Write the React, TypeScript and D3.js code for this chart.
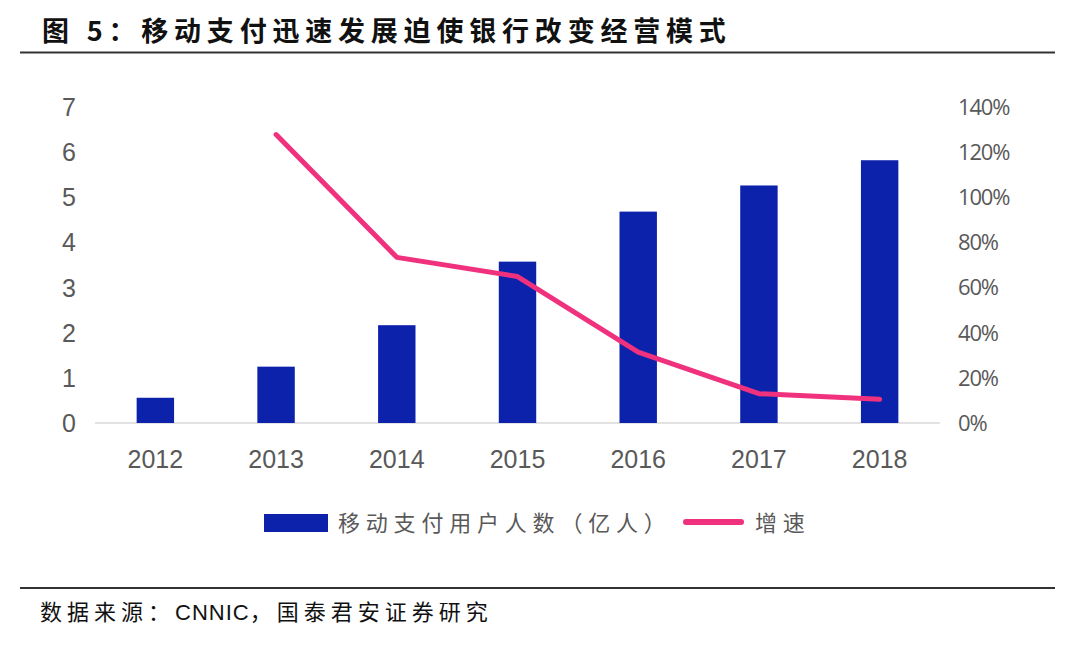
import React from "react";
import * as d3 from "d3";

const years = ["2012", "2013", "2014", "2015", "2016", "2017", "2018"];
const users = [0.56, 1.25, 2.17, 3.58, 4.69, 5.27, 5.83];
const growthYears = ["2013", "2014", "2015", "2016", "2017", "2018"];
const growth = [1.28, 0.735, 0.65, 0.315, 0.13, 0.105];
const leftTicks = [0, 1, 2, 3, 4, 5, 6, 7];
const rightTicks = [0, 0.2, 0.4, 0.6, 0.8, 1.0, 1.2, 1.4];

const W = 1080;
const H = 648;
const plotL = 95;
const plotR = 940;
const plotT = 107.5;
const plotB = 423;

const BAR = "#0D22AA";
const LINE = "#F0317E";
const GRAY = "#595959";
const FONT = "'Noto Sans CJK SC', 'Noto Sans', sans-serif";
const NUMFONT = "'Liberation Sans Narrow', 'Liberation Sans', Arial, sans-serif";

export default function App() {
  const x = d3.scaleBand().domain(years).range([plotL, plotR]).paddingInner(0.69).paddingOuter(0.345);
  const yL = d3.scaleLinear().domain([0, 7]).range([plotB, plotT]);
  const yR = d3.scaleLinear().domain([0, 1.4]).range([plotB, plotT]);
  const cx = (d: string) => (x(d) as number) + x.bandwidth() / 2;
  const line = d3
    .line<number>()
    .x((_, i) => cx(growthYears[i]))
    .y((d) => yR(d));

  return (
    <svg
      width={W}
      height={H}
      style={{ position: "absolute", left: 0, top: 0, background: "#fff" }}
    >
      <text
        x={42}
        y={41}
        fontFamily={FONT}
        fontWeight={700}
        fontSize={27}
        letterSpacing={5.8}
        fill="#111"
      >
        图 5：移动支付迅速发展迫使银行改变经营模式
      </text>
      <line x1={20} x2={1055} y1={52.5} y2={52.5} stroke="#333" strokeWidth={2} />

      {/* baseline */}
      <line x1={plotL} x2={plotR} y1={plotB} y2={plotB} stroke="#D9D9D9" strokeWidth={1.5} />

      {leftTicks.map((t) => (
        <text
          key={"l" + t}
          x={69}
          y={yL(t)}
          dy="0.35em"
          textAnchor="middle"
          fontFamily={NUMFONT}
          fontSize={25}
          fill={GRAY}
        >
          {t}
        </text>
      ))}
      {rightTicks.map((t) => (
        <text
          key={"r" + t}
          x={958}
          y={yR(t)}
          dy="0.35em"
          textAnchor="start"
          fontFamily="'Open Sans', 'Noto Sans', sans-serif"
          fontSize={22}
          letterSpacing={-1.2}
          fill={GRAY}
        >
          {Math.round(t * 100) + "%"}
        </text>
      ))}

      {years.map((y, i) => (
        <rect
          key={y}
          x={x(y)}
          y={yL(users[i])}
          width={x.bandwidth()}
          height={plotB - yL(users[i])}
          fill={BAR}
        />
      ))}

      {years.map((y) => (
        <text
          key={"x" + y}
          x={cx(y)}
          y={459}
          dy="0.35em"
          textAnchor="middle"
          fontFamily={NUMFONT}
          fontSize={25}
          fill={GRAY}
        >
          {y}
        </text>
      ))}

      <path
        d={line(growth) || ""}
        fill="none"
        stroke={LINE}
        strokeWidth={5}
        strokeLinejoin="round"
        strokeLinecap="round"
      />

      {/* legend */}
      <rect x={264} y={514} width={64} height={18} fill={BAR} />
      <text
        x={338}
        y={523}
        dy="0.35em"
        fontFamily={FONT}
        fontSize={22}
        letterSpacing={5.8}
        fill={GRAY}
      >
        移动支付用户人数（亿人）
      </text>
      <line x1={686} x2={741} y1={522} y2={522} stroke={LINE} strokeWidth={6} strokeLinecap="round" />
      <text
        x={755}
        y={523}
        dy="0.35em"
        fontFamily={FONT}
        fontSize={22}
        letterSpacing={5.8}
        fill={GRAY}
      >
        增速
      </text>

      <line x1={20} x2={1055} y1={588} y2={588} stroke="#333" strokeWidth={2} />
      <text
        x={40}
        y={612}
        dy="0.35em"
        fontFamily={FONT}
        fontSize={22}
        fill="#111"
      >
        <tspan letterSpacing={5}>数据来源：</tspan>
        <tspan fontFamily={NUMFONT} letterSpacing={1}>CNNIC</tspan>
        <tspan letterSpacing={5}>，国泰君安证券研究</tspan>
      </text>
    </svg>
  );
}
